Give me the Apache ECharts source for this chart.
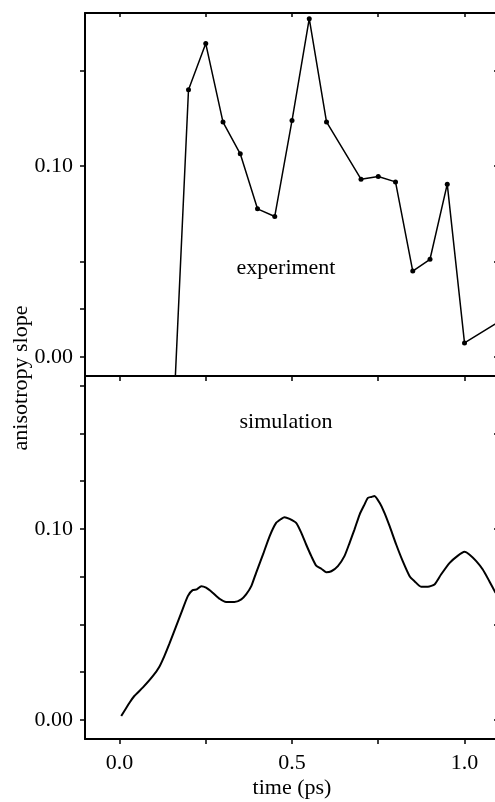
<!DOCTYPE html>
<html>
<head>
<meta charset="utf-8">
<script src="https://cdn.jsdelivr.net/npm/echarts@6/dist/echarts.min.js"></script>
<style>
  html, body { margin: 0; padding: 0; background: #fff; }
  #chart { width: 495px; height: 802px; }
</style>
</head>
<body>
<div id="chart"></div>
<script>
// experiment: points every 0.05 ps (0.65 missing), first point is below the frame
const expTime = [0.15, 0.20, 0.25, 0.30, 0.35, 0.40, 0.45, 0.50, 0.55, 0.60,
  0.70, 0.75, 0.80, 0.85, 0.90, 0.95, 1.00, 1.10];
const expValue = [-0.057, 0.1398, 0.1640, 0.1229, 0.1063, 0.0775, 0.0735, 0.1237, 0.1770, 0.1230,
  0.0930, 0.0944, 0.0916, 0.0449, 0.0511, 0.0904, 0.0073, 0.0185];

// simulation
const simTime = [0.005, 0.029, 0.043, 0.068, 0.097, 0.116, 0.130, 0.145, 0.164, 0.179,
  0.198, 0.212, 0.224, 0.237, 0.251, 0.270, 0.290, 0.309, 0.333, 0.353,
  0.367, 0.382, 0.396, 0.416, 0.435, 0.454, 0.469, 0.478, 0.493, 0.512,
  0.527, 0.541, 0.556, 0.570, 0.585, 0.599, 0.614, 0.633, 0.652, 0.667,
  0.681, 0.696, 0.710, 0.720, 0.730, 0.739, 0.754, 0.768, 0.783, 0.802,
  0.821, 0.841, 0.855, 0.874, 0.894, 0.913, 0.932, 0.957, 0.981, 1.000,
  1.014, 1.034, 1.053, 1.072, 1.090];
const simValue = [0.0020, 0.0090, 0.0125, 0.0170, 0.0230, 0.0280, 0.0334, 0.0400, 0.0490, 0.0560,
  0.0648, 0.0679, 0.0683, 0.0700, 0.0692, 0.0666, 0.0634, 0.0617, 0.0617, 0.0631,
  0.0657, 0.0700, 0.0770, 0.0866, 0.0961, 0.1031, 0.1052, 0.1061, 0.1052, 0.1031,
  0.0979, 0.0918, 0.0857, 0.0808, 0.0791, 0.0773, 0.0778, 0.0805, 0.0857, 0.0927,
  0.0996, 0.1075, 0.1127, 0.1162, 0.1167, 0.1172, 0.1136, 0.1084, 0.1014, 0.0918,
  0.0831, 0.0752, 0.0726, 0.0697, 0.0697, 0.0709, 0.0761, 0.0822, 0.0860, 0.0880,
  0.0866, 0.0831, 0.0787, 0.0726, 0.0665];

// ticks and labels
const xTicks = [0, 0.25, 0.5, 0.75, 1.0];
const xLabels = [0, 0.5, 1.0];
const yLabels = [0, 0.1];
const yTicksTopLeft = [0, 0.025, 0.05, 0.1, 0.15];
const yTicksBottomLeft = [0, 0.025, 0.05, 0.075, 0.1, 0.125, 0.15, 0.175];
const yTicksRight = [0, 0.05, 0.1, 0.15];

const FONT = "Liberation Serif";
const black = "#000";

function xAxis(grid, position, opts) {
  return Object.assign({
    type: "value",
    gridIndex: grid,
    position: position,
    min: -0.1,
    max: 1.1,
    splitLine: { show: false },
    axisLine: { show: true, onZero: false, lineStyle: { color: black, width: 2 } },
    axisTick: { show: false },
    axisLabel: { show: false },
  }, opts);
}

function yAxis(grid, position, opts) {
  return Object.assign({
    type: "value",
    gridIndex: grid,
    position: position,
    min: -0.01,
    max: 0.18,
    splitLine: { show: false },
    axisLine: { show: true, onZero: false, lineStyle: { color: black, width: 2 } },
    axisTick: { show: false },
    axisLabel: { show: false },
  }, opts);
}

const leftLabel = {
  show: true,
  customValues: yLabels,
  formatter: (v) => v.toFixed(2),
  margin: 12,
  color: black,
  fontFamily: FONT,
  fontSize: 22,
};

const myChart = echarts.init(document.getElementById("chart"), null, { renderer: "canvas" });

myChart.setOption({
  animation: false,
  backgroundColor: "#fff",
  grid: [
    { left: 85, top: 13, width: 414, height: 363, outerBoundsMode: "none", containLabel: false },
    { left: 85, top: 376, width: 414, height: 363, outerBoundsMode: "none", containLabel: false },
  ],
  xAxis: [
    xAxis(0, "bottom", {
      axisTick: { show: true, inside: false, length: 5, customValues: xTicks, lineStyle: { color: black, width: 1.5 } },
    }),
    xAxis(0, "top", {
      axisTick: { show: true, inside: true, length: 4, customValues: xTicks, lineStyle: { color: black, width: 1.5 } },
    }),
    xAxis(1, "bottom", {
      axisTick: { show: true, inside: false, length: 5, customValues: xTicks, lineStyle: { color: black, width: 1.5 } },
      axisLabel: {
        show: true,
        customValues: xLabels,
        formatter: (v) => v.toFixed(1),
        margin: 13,
        color: black,
        fontFamily: FONT,
        fontSize: 22,
      },
    }),
    xAxis(1, "top", {}),
  ],
  yAxis: [
    yAxis(0, "left", {
      axisTick: { show: true, inside: false, length: 5, customValues: yTicksTopLeft, lineStyle: { color: black, width: 1.5 } },
      axisLabel: leftLabel,
    }),
    yAxis(0, "right", {
      axisTick: { show: true, inside: true, length: 5, customValues: yTicksRight, lineStyle: { color: black, width: 1.5 } },
    }),
    yAxis(1, "left", {
      axisTick: { show: true, inside: false, length: 5, customValues: yTicksBottomLeft, lineStyle: { color: black, width: 1.5 } },
      axisLabel: leftLabel,
    }),
    yAxis(1, "right", {
      axisTick: { show: true, inside: true, length: 5, customValues: yTicksRight, lineStyle: { color: black, width: 1.5 } },
    }),
  ],
  series: [
    {
      name: "experiment",
      type: "line",
      xAxisIndex: 0,
      yAxisIndex: 0,
      clip: true,
      data: expTime.map((t, i) => [t, expValue[i]]),
      symbol: "circle",
      symbolSize: 5,
      showSymbol: true,
      itemStyle: { color: black },
      lineStyle: { color: black, width: 1.5 },
    },
    {
      name: "simulation",
      type: "line",
      xAxisIndex: 2,
      yAxisIndex: 2,
      clip: true,
      data: simTime.map((t, i) => [t, simValue[i]]),
      showSymbol: false,
      smooth: 0.2,
      lineStyle: { color: black, width: 2 },
    },
  ],
  graphic: [
    {
      type: "text", x: 286, y: 268,
      style: { text: "experiment", font: "22px " + FONT, fill: black, align: "center", verticalAlign: "middle" },
    },
    {
      type: "text", x: 286, y: 422,
      style: { text: "simulation", font: "22px " + FONT, fill: black, align: "center", verticalAlign: "middle" },
    },
    {
      type: "text", x: 292, y: 788,
      style: { text: "time (ps)", font: "22px " + FONT, fill: black, align: "center", verticalAlign: "middle" },
    },
    {
      type: "text", x: 21, y: 378, rotation: Math.PI / 2,
      style: { text: "anisotropy slope", font: "22px " + FONT, fill: black, align: "center", verticalAlign: "middle" },
    },
  ],
});
</script>
</body>
</html>
